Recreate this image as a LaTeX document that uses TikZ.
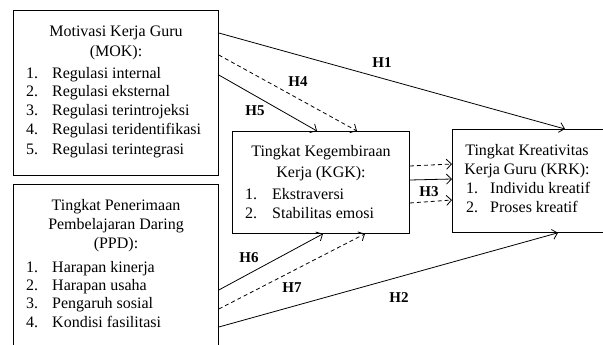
\documentclass[tikz,border=0pt]{standalone}
\usepackage{fontspec}
\setmainfont{Liberation Serif}
\usetikzlibrary{arrows.meta}
\begin{document}
\begin{tikzpicture}[x=1pt,y=-1pt,
  boxnode/.style={draw,line width=0.8pt,inner sep=0,anchor=north west},
  txt/.style={anchor=base west,inner sep=0,font=\fontsize{16}{19}\selectfont},
  ctxt/.style={anchor=base,inner sep=0,font=\fontsize{16}{19}\selectfont},
  lbl/.style={inner sep=0,font=\bfseries\fontsize{15}{18}\selectfont},
  arr/.style={-{Straight Barb[length=5pt,width=10pt]},line width=0.8pt},
  dsh/.style={arr,dash pattern=on 4pt off 3pt}]
\useasboundingbox (0,0) rectangle (603,345);
\clip (0,0) rectangle (603,345);
% boxes
\node[boxnode,minimum width=205pt,minimum height=165pt] (mok) at (13,10) {};
\node[boxnode,minimum width=205pt,minimum height=180pt] (ppd) at (13,184) {};
\node[boxnode,minimum width=177pt,minimum height=102pt] (kgk) at (232,131) {};
\node[boxnode,minimum width=170pt,minimum height=103pt] (krk) at (452,129) {};
% MOK text
\node[ctxt] (m0) at (116,37) {Motivasi Kerja Guru};
\node[ctxt] (m00) at (116,57) {(MOK):};
\node[txt] (m1n) at (26,78) {1.};  \node[txt] (m1) at (52,78) {Regulasi internal};
\node[txt] (m2n) at (26,97) {2.};  \node[txt] (m2) at (52,97) {Regulasi eksternal};
\node[txt] (m3n) at (26,116) {3.}; \node[txt] (m3) at (52,116) {Regulasi terintrojeksi};
\node[txt] (m4n) at (26,135) {4.}; \node[txt] (m4) at (52,135) {Regulasi teridentifikasi};
\node[txt] (m5n) at (26,154) {5.}; \node[txt] (m5) at (52,154) {Regulasi terintegrasi};
% PPD text
\node[ctxt] (p0) at (116,210) {Tingkat Penerimaan};
\node[ctxt] (p00) at (116,229) {Pembelajaran Daring};
\node[ctxt] (p000) at (116,248) {(PPD):};
\node[txt] (p1n) at (26,272) {1.}; \node[txt] (p1) at (52,272) {Harapan kinerja};
\node[txt] (p2n) at (26,290) {2.}; \node[txt] (p2) at (52,290) {Harapan usaha};
\node[txt] (p3n) at (26,308) {3.}; \node[txt] (p3) at (52,308) {Pengaruh sosial};
\node[txt] (p4n) at (26,327) {4.}; \node[txt] (p4) at (52,327) {Kondisi fasilitasi};
% KGK text
\node[ctxt] (g0) at (321,157) {Tingkat Kegembiraan};
\node[ctxt] (g00) at (321,177) {Kerja (KGK):};
\node[txt] (g1n) at (245,199) {1.}; \node[txt] (g1) at (272,199) {Ekstraversi};
\node[txt] (g2n) at (245,218) {2.}; \node[txt] (g2) at (272,218) {Stabilitas emosi};
% KRK text
\node[ctxt] (k0) at (527,155) {Tingkat Kreativitas};
\node[ctxt] (k00) at (527,174) {Kerja Guru (KRK):};
\node[txt] (k1n) at (466,193) {1.}; \node[txt] (k1) at (490,193) {Individu kreatif};
\node[txt] (k2n) at (466,212) {2.}; \node[txt] (k2) at (490,212) {Proses kreatif};
% arrows
\draw[arr] ([yshift=-23pt]mok.north east) -- ([xshift=113pt]krk.north west);
\draw[dsh] ([yshift=-45pt]mok.north east) -- ([xshift=125pt]kgk.north west);
\draw[arr] ([yshift=-65pt]mok.north east) -- ([xshift=85pt]kgk.north west);
\draw[dsh] ([yshift=-35pt]kgk.north east) -- ([yshift=-35pt]krk.north west);
\draw[arr] ([yshift=-49pt]kgk.north east) -- ([yshift=-50pt]krk.north west);
\draw[dsh] ([yshift=-72pt]kgk.north east) -- ([yshift=-71pt]krk.north west);
\draw[arr] ([yshift=-106pt]ppd.north east) -- ([xshift=91pt]kgk.south west);
\draw[dsh] ([yshift=-125pt]ppd.north east) -- ([xshift=133pt]kgk.south west);
\draw[arr] ([yshift=-143pt]ppd.north east) -- ([xshift=106pt]krk.south west);
% labels
\node[lbl] (h1) at (382,63) {H1};
\node[lbl] (h4) at (298,82) {H4};
\node[lbl] (h5) at (255,111) {H5};
\node[lbl] (h3) at (429,192) {H3};
\node[lbl] (h6) at (249,258) {H6};
\node[lbl] (h7) at (292,288) {H7};
\node[lbl] (h2) at (399,298) {H2};
\end{tikzpicture}
\end{document}
